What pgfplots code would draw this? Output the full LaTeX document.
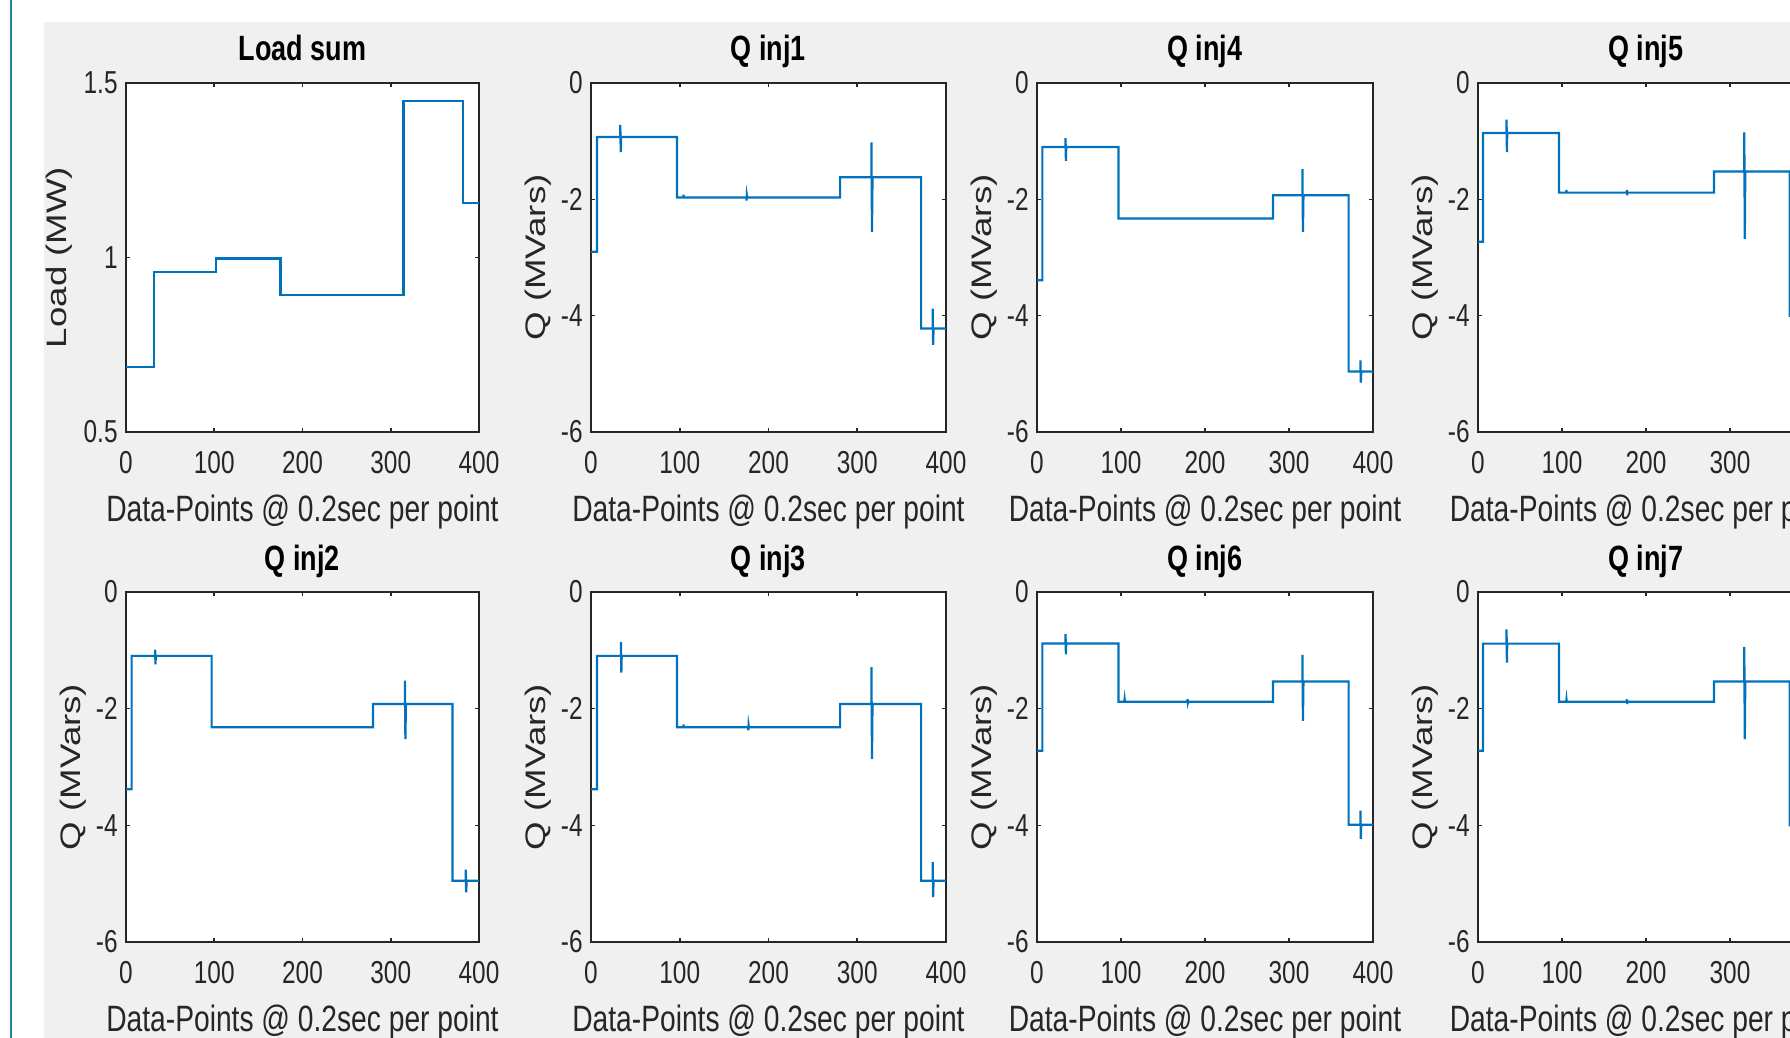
\documentclass[border=0pt]{standalone}
\usepackage{fontspec}
\setmainfont{Liberation Sans}
\usepackage{pgfplots}
\pgfplotsset{compat=1.18}
\definecolor{mblue}{rgb}{0,0.447,0.741}
\definecolor{axgray}{rgb}{0.15,0.15,0.15}
\definecolor{figgray}{rgb}{0.94,0.94,0.94}
\definecolor{tealline}{RGB}{40,130,155}
\pgfplotsset{
  panel/.style={
    scale only axis,
    anchor=south west,
    xmin=0, xmax=400,
    xtick={0,100,200,300,400},
    xticklabels={0,100,200,300,400},
    ymin=-6, ymax=0,
    ytick={-6,-4,-2,0},
    yticklabels={-6,-4,-2,0},
    axis line style={axgray, line width=1pt},
    every tick/.style={axgray, line width=0.8pt},
    major tick length=2.2pt,
    tick align=inside,
    xtick pos=both, ytick pos=both,
    xticklabel pos=bottom, yticklabel pos=left,
    axis background/.style={fill=white},
    tick label style={font=\fontsize{12.2}{14}\selectfont, text=axgray, inner sep=0pt, yscale=1.3},
    xticklabel shift=9.3pt,
    yticklabel shift=4pt,
    every axis title/.style={at={([yshift=11pt]axis description cs:0.5,1)}, anchor=base, font=\fontsize{13.5}{16}\selectfont\bfseries, text=black, yscale=1.3},
    every axis x label/.style={at={([yshift=-44.75pt]axis description cs:0.5,0)}, anchor=base, font=\fontsize{14.1}{16}\selectfont, text=axgray, yscale=1.3},
    every axis y label/.style={at={([xshift=-26.5pt]axis description cs:0,0.5)}, anchor=center, font=\fontsize{14.1}{16}\selectfont, text=axgray, rotate=90, xscale=1.3},
    xlabel={Data-Points @ 0.2sec per point},
    ylabel={Q (MVars)},
    every axis plot post/.append style={draw=mblue, line width=1.1pt, mark=none},
  }
}
\begin{document}
\begin{tikzpicture}
\useasboundingbox (0,0) rectangle (895pt,519pt);
\fill[white] (0,0) rectangle (895pt,519pt);
\fill[figgray] (22pt,0) rectangle (895pt,508pt);
\draw[tealline, line width=1.25pt] (5.5pt,0) -- (5.5pt,519pt);

% ---------- Row 1 ----------
\begin{axis}[panel, at={(63pt,303pt)}, width=176.5pt, height=174.5pt,
  title={Load sum}, ylabel={Load (MW)},
  ymin=0.5, ymax=1.5, ytick={0.5,1,1.5}, yticklabels={0.5,1,1.5},
  every axis y label/.append style={at={([xshift=-33.5pt]axis description cs:0,0.5)}}]
\addplot coordinates {(0,0.687) (32,0.687) (32,0.958) (102,0.958) (102,0.997) (175,0.997) (175,0.892) (314.5,0.892) (314.5,1.449) (382,1.449) (382,1.156) (400,1.156)};
\end{axis}

\begin{axis}[panel, at={(295.5pt,303pt)}, width=177.5pt, height=174.5pt, title={Q inj1}]
\addplot coordinates {(0,-2.9) (6.8,-2.9) (6.8,-0.93) (33,-0.93) (33,-0.72) (33.5,-1.19) (34,-0.93) (97,-0.93) (97,-1.97) (104,-1.97) (104.3,-1.92) (104.6,-1.97) (175,-1.97) (175.3,-2.02) (175.6,-1.93) (176,-1.97) (280.7,-1.97) (280.7,-1.62) (316,-1.62) (316,-1.02) (316.6,-2.56) (317.2,-1.62) (372,-1.62) (372,-4.22) (385,-4.22) (385,-3.88) (385.5,-4.50) (386,-4.22) (400,-4.22)};
\end{axis}

\begin{axis}[panel, at={(518.5pt,303pt)}, width=168pt, height=174.5pt, title={Q inj4}]
\addplot coordinates {(0,-3.39) (6.4,-3.39) (6.4,-1.10) (34,-1.10) (34,-0.95) (34.4,-1.34) (34.8,-1.10) (97,-1.10) (97,-2.33) (281,-2.33) (281,-1.93) (316,-1.93) (316,-1.48) (316.6,-2.56) (317.2,-1.93) (371,-1.93) (371,-4.96) (385,-4.96) (385,-4.77) (385.5,-5.15) (386,-4.96) (400,-4.96)};
\end{axis}

\begin{axis}[panel, at={(739pt,303pt)}, width=168pt, height=174.5pt, title={Q inj5}]
\addplot coordinates {(0,-2.73) (6,-2.73) (6,-0.86) (34,-0.86) (34,-0.63) (34.4,-1.19) (34.8,-0.86) (96.5,-0.86) (96.5,-1.885) (105,-1.885) (105.3,-1.84) (105.6,-1.885) (177,-1.885) (177.3,-1.84) (177.6,-1.93) (178,-1.885) (281,-1.885) (281,-1.52) (317,-1.52) (317,-0.85) (317.6,-2.68) (318.2,-1.52) (371,-1.52) (371,-4.0) (385,-4.0) (385,-3.8) (385.5,-4.2) (386,-4.0) (400,-4.0)};
\end{axis}

% ---------- Row 2 ----------
\begin{axis}[panel, at={(63pt,48pt)}, width=176.5pt, height=175pt, title={Q inj2}]
\addplot coordinates {(0,-3.38) (6.4,-3.38) (6.4,-1.095) (33,-1.095) (33,-0.99) (33.4,-1.24) (33.8,-1.095) (97,-1.095) (97,-2.32) (280,-2.32) (280,-1.92) (316,-1.92) (316,-1.52) (316.6,-2.52) (317.2,-1.92) (370,-1.92) (370,-4.95) (385,-4.95) (385,-4.76) (385.5,-5.15) (386,-4.95) (400,-4.95)};
\end{axis}

\begin{axis}[panel, at={(295.5pt,48pt)}, width=177.5pt, height=175pt, title={Q inj3}]
\addplot coordinates {(0,-3.38) (6.8,-3.38) (6.8,-1.095) (33.8,-1.095) (33.8,-0.86) (34.2,-1.38) (34.6,-1.095) (96.8,-1.095) (96.8,-2.32) (104,-2.32) (104.3,-2.27) (104.6,-2.32) (177,-2.32) (177.3,-2.37) (177.6,-2.28) (178,-2.32) (280.7,-2.32) (280.7,-1.92) (316,-1.92) (316,-1.29) (316.6,-2.86) (317.2,-1.92) (372,-1.92) (372,-4.95) (385,-4.95) (385,-4.63) (385.5,-5.23) (386,-4.95) (400,-4.95)};
\end{axis}

\begin{axis}[panel, at={(518.5pt,48pt)}, width=168pt, height=175pt, title={Q inj6}]
\addplot coordinates {(0,-2.72) (6.4,-2.72) (6.4,-0.884) (34,-0.884) (34,-0.72) (34.4,-1.07) (34.8,-0.884) (97,-0.884) (97,-1.88) (104,-1.88) (104.3,-1.84) (104.6,-1.88) (179,-1.88) (179.3,-1.84) (179.6,-1.9) (180,-1.88) (281,-1.88) (281,-1.535) (316,-1.535) (316,-1.08) (316.6,-2.21) (317.2,-1.535) (371,-1.535) (371,-3.99) (385,-3.99) (385,-3.75) (385.5,-4.23) (386,-3.99) (400,-3.99)};
\end{axis}

\begin{axis}[panel, at={(739pt,48pt)}, width=168pt, height=175pt, title={Q inj7}]
\addplot coordinates {(0,-2.72) (6,-2.72) (6,-0.885) (34,-0.885) (34,-0.64) (34.4,-1.21) (34.8,-0.885) (96.5,-0.885) (96.5,-1.88) (105,-1.88) (105.3,-1.84) (105.6,-1.88) (177,-1.88) (177.3,-1.84) (177.6,-1.92) (178,-1.88) (281,-1.88) (281,-1.535) (317,-1.535) (317,-0.94) (317.6,-2.52) (318.2,-1.535) (371,-1.535) (371,-4.0) (385,-4.0) (385,-3.8) (385.5,-4.2) (386,-4.0) (400,-4.0)};
\end{axis}
\end{tikzpicture}
\end{document}
